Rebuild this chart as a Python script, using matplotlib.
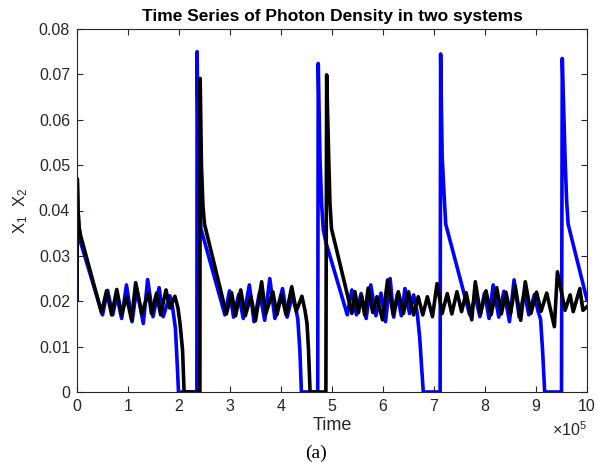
import numpy as np
import matplotlib
matplotlib.use("Agg")
import matplotlib.pyplot as plt

plt.rcParams['font.family'] = ['Liberation Sans', 'DejaVu Sans']
plt.rcParams['mathtext.fontset'] = 'custom'
plt.rcParams['mathtext.rm'] = 'Liberation Sans'
plt.rcParams['mathtext.it'] = 'Liberation Sans'

# time in units of 1e5
blue_t = [0.000, 0.005, 0.020, 0.040, 0.070, 0.500, 0.600, 0.700, 0.780, 0.875,
          0.970, 1.080, 1.170, 1.300, 1.385, 1.490, 1.610, 1.690, 1.820, 1.870,
          1.930, 1.970, 1.990, 2.350, 2.355, 2.380, 2.400, 2.430, 2.900, 2.990,
          3.070, 3.170, 3.260, 3.380, 3.470, 3.580, 3.680, 3.780, 3.880, 4.030,
          4.120, 4.220, 4.300, 4.330, 4.370, 4.400, 4.720, 4.730, 4.765, 4.800,
          4.830, 4.880, 5.300, 5.390, 5.480, 5.570, 5.670, 5.760, 5.860, 5.960,
          6.050, 6.140, 6.210, 6.280, 6.360, 6.430, 6.520, 6.600, 6.670, 6.720,
          6.760, 6.790, 7.120, 7.130, 7.160, 7.200, 7.230, 7.700, 7.810, 7.900,
          7.990, 8.080, 8.160, 8.270, 8.370, 8.480, 8.570, 8.670, 8.770, 8.860,
          8.970, 9.040, 9.090, 9.130, 9.170, 9.500, 9.515, 9.570, 9.600, 9.630,
          10.00]
blue_x = [0.0203, 0.0470, 0.0400, 0.0360, 0.0330, 0.0170, 0.0224, 0.0170, 0.0212, 0.0162,
          0.0236, 0.0155, 0.0228, 0.0151, 0.0248, 0.0166, 0.0230, 0.0166, 0.0212, 0.0190,
          0.0140, 0.0050, 0.0000, 0.0000, 0.0750, 0.0500, 0.0420, 0.0360, 0.0170, 0.0223,
          0.0165, 0.0215, 0.0162, 0.0236, 0.0155, 0.0220, 0.0158, 0.0250, 0.0162, 0.0228,
          0.0165, 0.0212, 0.0178, 0.0160, 0.0092, 0.0000, 0.0000, 0.0724, 0.0511, 0.0408,
          0.0357, 0.0330, 0.0170, 0.0225, 0.0170, 0.0217, 0.0162, 0.0236, 0.0168, 0.0218,
          0.0155, 0.0250, 0.0165, 0.0215, 0.0168, 0.0228, 0.0173, 0.0214, 0.0175, 0.0120,
          0.0050, 0.0000, 0.0000, 0.0745, 0.0519, 0.0430, 0.0370, 0.0170, 0.0210, 0.0166,
          0.0218, 0.0162, 0.0236, 0.0165, 0.0222, 0.0155, 0.0247, 0.0165, 0.0220, 0.0170,
          0.0215, 0.0178, 0.0160, 0.0090, 0.0000, 0.0000, 0.0735, 0.0515, 0.0423, 0.0370,
          0.0203]

black_t = [0.000, 0.005, 0.020, 0.040, 0.070, 0.480, 0.580, 0.680, 0.780, 0.875,
           0.970, 1.070, 1.150, 1.270, 1.400, 1.460, 1.560, 1.640, 1.745, 1.820,
           1.920, 1.980, 2.020, 2.070, 2.100, 2.410, 2.415, 2.440, 2.470, 2.500,
           2.930, 3.030, 3.110, 3.210, 3.300, 3.410, 3.500, 3.620, 3.700, 3.840,
           3.920, 4.010, 4.100, 4.210, 4.300, 4.410, 4.470, 4.510, 4.540, 4.570,
           4.880, 4.895, 4.940, 4.960, 4.990, 5.390, 5.450, 5.520, 5.580, 5.640,
           5.710, 5.800, 5.880, 5.990, 6.090, 6.200, 6.300, 6.400, 6.500, 6.600,
           6.690, 6.780, 6.870, 6.970, 7.060, 7.160, 7.260, 7.350, 7.450, 7.540,
           7.630, 7.740, 7.810, 7.910, 8.020, 8.120, 8.230, 8.320, 8.410, 8.500,
           8.590, 8.700, 8.790, 8.900, 9.010, 9.100, 9.210, 9.360, 9.420, 9.570,
           9.670, 9.730, 9.860, 9.920, 10.00]
black_x = [0.0203, 0.0469, 0.0400, 0.0365, 0.0345, 0.0175, 0.0223, 0.0170, 0.0226, 0.0170,
           0.0210, 0.0159, 0.0241, 0.0173, 0.0219, 0.0173, 0.0218, 0.0170, 0.0225, 0.0185,
           0.0211, 0.0185, 0.0151, 0.0092, 0.0000, 0.0000, 0.0691, 0.0500, 0.0410, 0.0370,
           0.0172, 0.0219, 0.0168, 0.0225, 0.0168, 0.0211, 0.0157, 0.0243, 0.0172, 0.0221,
           0.0170, 0.0214, 0.0170, 0.0232, 0.0178, 0.0211, 0.0180, 0.0151, 0.0092, 0.0000,
           0.0000, 0.0699, 0.0497, 0.0416, 0.0360, 0.0173, 0.0221, 0.0175, 0.0212, 0.0170,
           0.0229, 0.0175, 0.0210, 0.0159, 0.0247, 0.0170, 0.0221, 0.0173, 0.0221, 0.0170,
           0.0210, 0.0170, 0.0210, 0.0166, 0.0239, 0.0173, 0.0217, 0.0172, 0.0221, 0.0177,
           0.0219, 0.0159, 0.0243, 0.0172, 0.0223, 0.0170, 0.0230, 0.0172, 0.0220, 0.0172,
           0.0235, 0.0158, 0.0243, 0.0173, 0.0220, 0.0178, 0.0218, 0.0144, 0.0265, 0.0180,
           0.0214, 0.0177, 0.0228, 0.0180, 0.0188]

x_ticks = list(range(0, 11))
y_ticks = [0, 0.01, 0.02, 0.03, 0.04, 0.05, 0.06, 0.07, 0.08]
y_labels = ['0', '0.01', '0.02', '0.03', '0.04', '0.05', '0.06', '0.07', '0.08']

fig = plt.figure(figsize=(5.98, 4.68), dpi=100)
ax = fig.add_axes([77/598, 76/468, 510/598, 363/468])

ax.plot(blue_t, blue_x, color='#0000ff', lw=2.6, solid_joinstyle='round')
ax.plot(black_t, black_x, color='black', lw=2.6, solid_joinstyle='round')

ax.set_xlim(0, 10)
ax.set_ylim(0, 0.08)
ax.set_xticks(x_ticks)
ax.set_yticks(y_ticks)
ax.set_yticklabels(y_labels)
ax.tick_params(direction='in', top=True, right=True, length=4, width=0.8,
               labelsize=11.5, colors='#262626', labelcolor='#262626', pad=5)
for s in ax.spines.values():
    s.set_linewidth(0.8)
    s.set_color('#262626')

ax.set_title('Time Series of Photon Density in two systems', fontsize=12.5,
             fontweight='bold', pad=6)
ax.set_xlabel('Time', fontsize=13, color='#262626', labelpad=2)
ax.set_ylabel('X$_1$  X$_2$', fontsize=12, color='#262626', labelpad=6)

fig.text(587/598, 1 - 430/468, r'$\times$10$^5$', ha='right', va='center',
         fontsize=11.5, color='#262626')
fig.text(316/598, 1 - 453/468, '(a)', ha='center', va='center',
         fontsize=14, family='Liberation Serif')

fig.savefig('out.png', dpi=100)
